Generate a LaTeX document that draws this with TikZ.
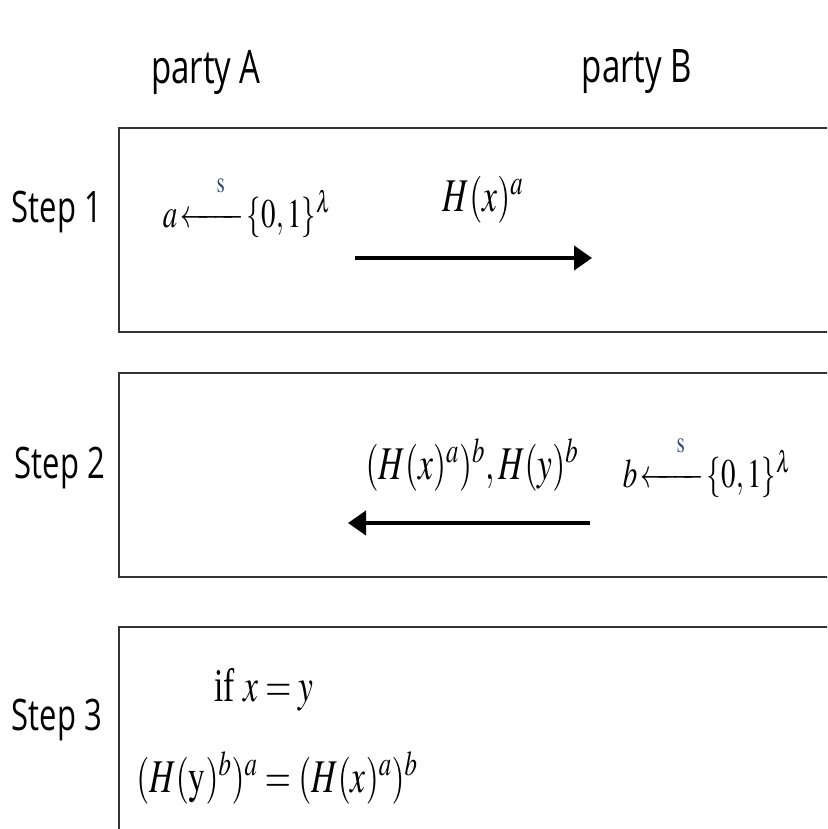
\documentclass[tikz,border=0pt]{standalone}
\usepackage{mathptmx}
\usepackage{amsmath}
\usepackage{fontspec}
\setmainfont{Liberation Serif}
\newfontfamily\labfont{Open Sans}
\usetikzlibrary{arrows.meta}
\definecolor{boxline}{HTML}{333333}
\definecolor{sblue}{HTML}{2E4A7A}
\tikzset{
  stepbox/.style={draw=boxline, line width=2.6pt},
  lab/.style={font=\labfont\fontsize{33}{36}\selectfont, yscale=1.4, inner sep=0pt},
  steplab/.style={font=\labfont\fontsize{31}{34}\selectfont, yscale=1.4, inner sep=0pt},
  mathtxt/.style={font=\fontsize{33.5}{36}\selectfont, yscale=1.4, inner sep=0pt},
  smallmath/.style={font=\fontsize{29}{32}\selectfont, yscale=1.4, inner sep=0pt},
  msg/.style={line width=4pt, -{Triangle[length=18pt,width=24pt]}}
}
\newcommand{\sarrow}{\mathrel{\overset{\hspace{0.6em}\textcolor{sblue}{\scriptstyle\mathrm{s}}}{\xleftarrow{\hspace{1.6em}}}}}
\begin{document}
\begin{tikzpicture}[x=1pt,y=-1pt]
\useasboundingbox (0,0) rectangle (827,829);
\clip (0,0) rectangle (827,829);
% headers
\node[lab] (pa) at (206,72) {party A};
\node[lab] (pb) at (637,72) {party B};
% boxes
\draw[stepbox] (119,128) rectangle (845,332);
\draw[stepbox] (119,373) rectangle (845,577);
\draw[stepbox] (119,627) rectangle (845,830);
% step labels
\node[steplab] (st1) at (57,212) {Step 1};
\node[steplab] (st2) at (60,468) {Step 2};
\node[steplab] (st3) at (57,720) {Step 3};
% step 1
\node[smallmath] (gena) at (247,206) {$a\!\sarrow\!\{0,1\}^{\lambda}$};
\node[mathtxt] (m1) at (483,200) {$H(x)^{a}$};
\coordinate (m1from) at (355,258);
\coordinate (m1to) at (592,258);
\draw[msg] (m1from) -- (m1to);
% step 2
\node[mathtxt] (m2) at (472,465) {$(H(x)^{a})^{b},H(y)^{b}$};
\node[smallmath] (genb) at (707,466) {$b\!\sarrow\!\{0,1\}^{\lambda}$};
\coordinate (m2from) at (590,523);
\coordinate (m2to) at (348,523);
\draw[msg] (m2from) -- (m2to);
% step 3
\node[mathtxt] (cond) at (264,690) {if $x=y$};
\node[mathtxt] (eq) at (277,778) {$(H(\mathrm{y})^{b})^{a}=(H(x)^{a})^{b}$};
\end{tikzpicture}
\end{document}
